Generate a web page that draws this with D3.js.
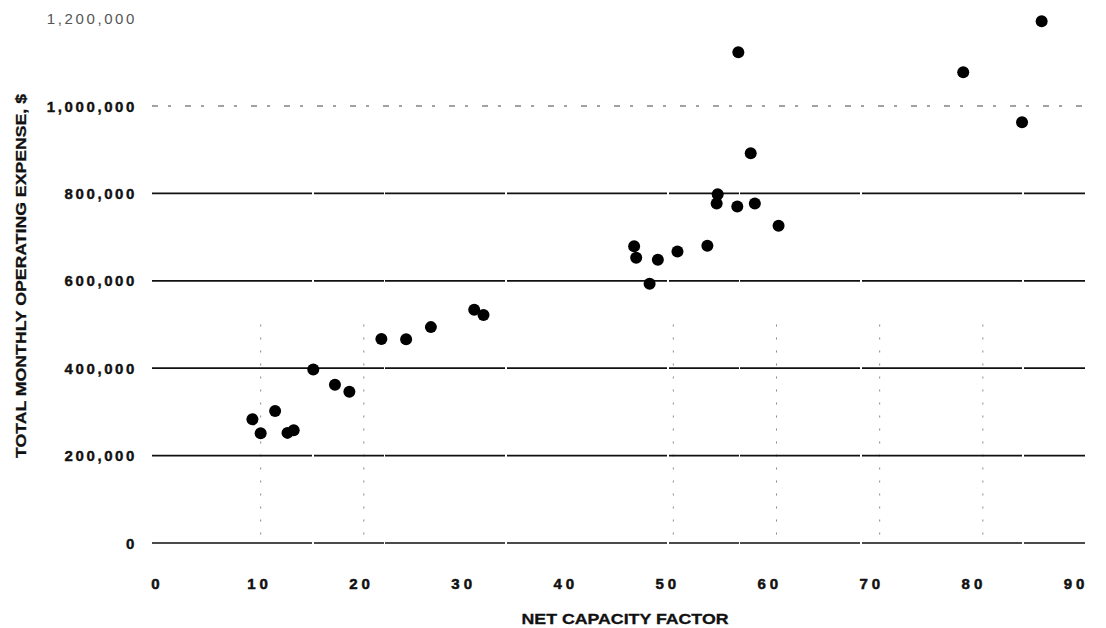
<!DOCTYPE html>
<html>
<head>
<meta charset="utf-8">
<script src="https://cdn.jsdelivr.net/npm/d3@7"></script>
<style>
  body { margin: 0; background: #fff; }
  svg { display: block; }
  text { font-family: Arial, "Liberation Sans", Helvetica, sans-serif; }
</style>
</head>
<body>
<svg id="chart" width="1106" height="628"></svg>
<script>
// net capacity factor (%) vs total monthly operating expense ($)
var capacityFactor = [9.2, 10.0, 11.4, 12.6, 13.2, 15.1, 17.2, 18.6, 21.7, 24.1, 26.5, 30.7, 31.6,
                      46.2, 46.4, 47.7, 48.5, 50.4, 53.3, 54.2, 54.3, 56.2, 56.3, 57.5, 57.9, 60.2,
                      78.1, 83.8, 85.7];
var monthlyExpense = [283000, 251000, 302000, 252000, 258000, 397000, 362000, 346000, 467000, 466000, 494000, 534000, 522000,
                      679000, 653000, 593000, 648000, 667000, 680000, 777000, 798000, 770000, 1123000, 892000, 777000, 726000,
                      1077000, 963000, 1194000];
var xTicks = [0, 10, 20, 30, 40, 50, 60, 70, 80, 90];
var yTicks = [0, 200000, 400000, 600000, 800000, 1000000, 1200000];
var yGrid = [0, 200000, 400000, 600000, 800000, 1000000];
var vGrid = [10, 20, 50, 60, 70, 80];

var svg = d3.select('#chart');

var x = d3.scaleLinear().domain([0, 90]).range([157.5, 1086]);
var y = d3.scaleLinear().domain([0, 1200000]).range([543, 18.6]);
var fmt = d3.format(',');

// faint vertical grid (scanned, broken)
svg.append('g').selectAll('line')
    .data(vGrid)
    .enter().append('line')
    .attr('x1', function (d) { return x(d); })
    .attr('x2', function (d) { return x(d); })
    .attr('y1', y(500000))
    .attr('y2', y(0))
    .attr('stroke', '#888')
    .attr('stroke-width', 1)
    .attr('stroke-dasharray', '2,11');

// horizontal grid lines
svg.append('g').selectAll('line')
    .data(yGrid)
    .enter().append('line')
    .attr('x1', 152)
    .attr('x2', 1085)
    .attr('y1', function (d) { return y(d); })
    .attr('y2', function (d) { return y(d); })
    .attr('stroke', function (d) { return d === 1000000 ? '#444' : '#111'; })
    .attr('stroke-width', function (d) { return d === 1000000 ? 1 : 1.7; })
    .attr('stroke-dasharray', function (d) {
        return d === 1000000 ? '6,10,3,14' : '160,2,70,1,120,2';
    });

// y tick labels
svg.append('g').selectAll('text')
    .data(yTicks)
    .enter().append('text')
    .attr('x', 137)
    .attr('y', function (d) { return y(d) + 5.5; })
    .attr('text-anchor', 'end')
    .attr('font-size', 15)
    .attr('font-weight', function (d) { return d === 1200000 ? 'normal' : 'bold'; })
    .attr('fill', function (d) { return d === 1200000 ? '#555' : '#111'; })
    .attr('stroke', function (d) { return d === 1200000 ? 'none' : '#111'; })
    .attr('stroke-width', 0.4)
    .attr('letter-spacing', 2.6)
    .text(function (d) { return fmt(d); });

// x tick labels
svg.append('g').selectAll('text')
    .data(xTicks)
    .enter().append('text')
    .attr('x', function (d) { return x(d) - (d / 90) * 10; })
    .attr('y', 589)
    .attr('text-anchor', 'middle')
    .attr('font-size', 15)
    .attr('font-weight', 'bold')
    .attr('fill', '#111')
    .attr('stroke', '#111')
    .attr('stroke-width', 0.5)
    .attr('letter-spacing', 4)
    .text(function (d) { return d; });

// axis titles
svg.append('text')
    .attr('x', 625)
    .attr('y', 624)
    .attr('text-anchor', 'middle')
    .attr('font-size', 15)
    .attr('font-weight', 'bold')
    .attr('fill', '#111')
    .attr('stroke', '#111')
    .attr('stroke-width', 0.3)
    .attr('textLength', 207)
    .attr('lengthAdjust', 'spacingAndGlyphs')
    .text('NET CAPACITY FACTOR');

svg.append('text')
    .attr('transform', 'translate(26,276) rotate(-90)')
    .attr('text-anchor', 'middle')
    .attr('font-size', 15)
    .attr('font-weight', 'bold')
    .attr('fill', '#111')
    .attr('stroke', '#111')
    .attr('stroke-width', 0.3)
    .attr('textLength', 364)
    .attr('lengthAdjust', 'spacingAndGlyphs')
    .text('TOTAL MONTHLY OPERATING EXPENSE, $');

// data points
svg.append('g').selectAll('circle')
    .data(capacityFactor)
    .enter().append('circle')
    .attr('cx', function (d) { return x(d); })
    .attr('cy', function (d, i) { return y(monthlyExpense[i]); })
    .attr('r', 6)
    .attr('fill', '#000');
</script>
</body>
</html>
